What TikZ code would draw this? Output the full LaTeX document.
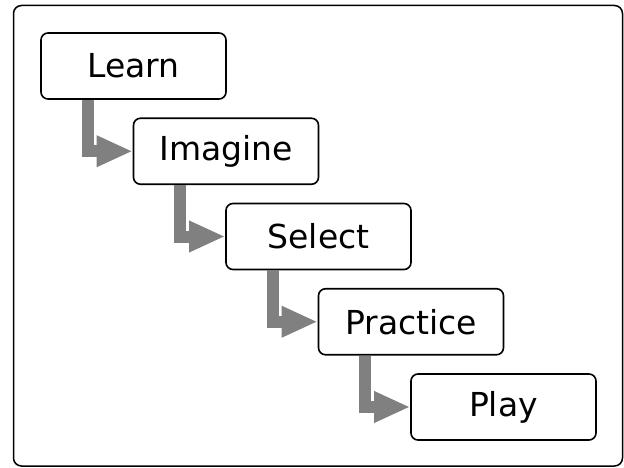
\documentclass[tikz,border=0pt]{standalone}
\usepackage{fontspec}
\setmainfont{DejaVu Sans}
\usetikzlibrary{arrows.meta,positioning}
\tikzset{
    stage/.style = {draw, rectangle, rounded corners=7pt, line width=1.6pt,
        minimum width=185pt, minimum height=66pt, inner sep=0pt, outer sep=0pt,
        font=\fontsize{33}{40}\selectfont},
    flow/.style = {draw=gray, line width=12pt, line join=miter,
        -{Triangle[length=36pt,width=29pt]}, shorten >=0.8pt}
}
\begin{document}
\begin{tikzpicture}[x=1pt, y=-1pt]
    \useasboundingbox (0,0) rectangle (624,468);
    % frame
    \draw [line width=1.5pt, rounded corners=8pt] (13.5,5.5) rectangle (622.5,466);
    % stages
    \node [stage] (learn) at (133.5,66) {Learn};
    \node [stage, below right=19.25pt and -92.5pt of learn] (imagine) {Imagine};
    \node [stage, below right=19.25pt and -92.5pt of imagine] (select) {Select};
    \node [stage, below right=19.25pt and -92.5pt of select] (practice) {Practice};
    \node [stage, below right=19.25pt and -92.5pt of practice] (play) {Play};
    % arrows
    \foreach \from/\to in {learn/imagine, imagine/select, select/practice, practice/play}
        \draw [flow] ([xshift=46.5pt, yshift=-0.8pt]\from.south west) |- (\to.west);
\end{tikzpicture}
\end{document}
